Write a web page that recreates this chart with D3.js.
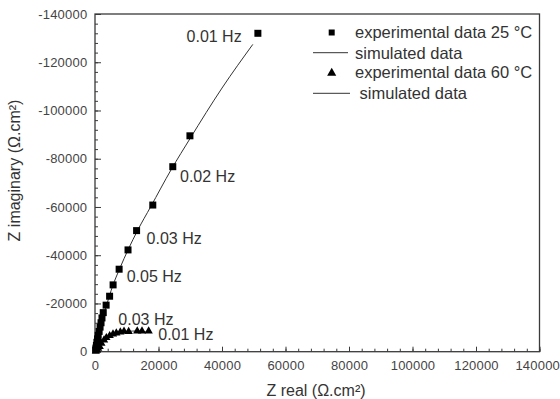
<!DOCTYPE html>
<html>
<head>
<meta charset="utf-8">
<script src="https://cdn.jsdelivr.net/npm/d3@7"></script>
<style>
body { margin: 0; background: #fff; }
text { font-family: "Liberation Sans", Arial, sans-serif; }
</style>
</head>
<body>
<script>
//
// DATA
//
// experimental data 25 °C (squares)
var exp25_real = [51300, 29900, 24500, 18200, 13100, 10400, 7600, 5700, 4600, 3500, 2600, 2200, 1900, 1600, 1300, 1000, 800, 600, 450, 300, 200];
var exp25_imag = [-132000, -89500, -76700, -60800, -50200, -42200, -34200, -27700, -23000, -19300, -16200, -14000, -12000, -10200, -8400, -6800, -5300, -3900, -2600, -1500, -700];

// simulated data 25 °C
var sim25_real = [0, 300, 800, 1500, 2500, 3700, 5500, 7800, 10500, 13500, 17500, 24000, 30000, 40000, 49700];
var sim25_imag = [0, -2000, -5000, -9000, -14000, -19500, -27000, -34500, -42500, -50500, -60000, -75500, -88500, -109300, -127400];

// experimental data 60 °C (triangles)
var exp60_real = [16900, 14800, 13300, 10600, 9140, 7980, 6720, 5670, 4620, 3570, 2840, 2000, 1480, 1000, 600, 300];
var exp60_imag = [-8580, -8580, -8580, -8300, -8450, -8170, -7750, -7340, -6630, -5800, -4850, -3480, -2070, -1400, -800, -300];

// simulated data 60 °C
var sim60_real = [0, 400, 1000, 1700, 2600, 3600, 4800, 6200, 7800, 9600, 11800, 14500, 17500];
var sim60_imag = [0, -700, -1600, -2800, -4300, -5600, -6600, -7400, -8000, -8350, -8550, -8500, -7900];

// frequency annotations: text, series, point index
var freq_text = ["0.01 Hz", "0.02 Hz", "0.03 Hz", "0.05 Hz", "0.03 Hz", "0.01 Hz"];
var freq_series = ["25", "25", "25", "25", "60", "60"];
var freq_index = [0, 2, 4, 6, 5, 0];

// axis ticks
var x_ticks = [0, 20000, 40000, 60000, 80000, 100000, 120000, 140000];
var y_ticks = [0, -20000, -40000, -60000, -80000, -100000, -120000, -140000];

// legend entries
var legend_labels = ["experimental data 25 °C", "simulated data", "experimental data 60 °C", " simulated data"];

//
// LAYOUT
//
var width = 560, height = 399;
var margin = {left: 95, right: 20.5, top: 14, bottom: 47.3};
var w = width - margin.left - margin.right;
var h = height - margin.top - margin.bottom;
var frame_col = "#3a3a3a";

function zip(re, im){
    return re.map(function(d, i){ return {x: d, y: im[i]}; });
}

var exp25 = zip(exp25_real, exp25_imag);
var sim25 = zip(sim25_real, sim25_imag);
var exp60 = zip(exp60_real, exp60_imag);
var sim60 = zip(sim60_real, sim60_imag);

//
// SCALES
//
var x = d3.scaleLinear().domain([0, 140000]).range([0, w]);
var y = d3.scaleLinear().domain([0, -140000]).range([h, 0]);

var svg = d3.select("body")
    .append("svg")
    .attr("width", width)
    .attr("height", height);

var g = svg.append("g")
    .attr("transform", "translate(" + margin.left + "," + margin.top + ")");

//
// AXES
//
var minor_x = d3.range(0, 140001, 4000);
var minor_y = d3.range(0, -140001, -4000);

g.append("g")
    .attr("class", "minor")
    .attr("transform", "translate(0," + h + ")")
    .call(d3.axisBottom(x).tickValues(minor_x).tickSize(-3).tickFormat(""));

g.append("g")
    .attr("class", "minor")
    .call(d3.axisLeft(y).tickValues(minor_y).tickSize(-3).tickFormat(""));

var xa = g.append("g")
    .attr("transform", "translate(0," + h + ")")
    .call(d3.axisBottom(x).tickValues(x_ticks).tickSize(-5).tickPadding(8.8)
        .tickFormat(function(d){ return String(d); }));

var ya = g.append("g")
    .call(d3.axisLeft(y).tickValues(y_ticks).tickSize(-6).tickPadding(7.7)
        .tickFormat(function(d){ return String(d); }));

g.selectAll(".domain").remove();
g.selectAll(".tick line").attr("stroke", frame_col).attr("stroke-width", 1);
g.selectAll(".tick text")
    .attr("fill", "#444")
    .style("font-size", "13px")
    .style("letter-spacing", "0.2px")
    .style("font-family", "'Liberation Sans', Arial, sans-serif");

// keep the last x label inside the window
xa.selectAll(".tick text")
    .filter(function(d){ return d === 140000; })
    .attr("text-anchor", "end")
    .attr("x", 20);

// Frame
g.append("rect")
    .attr("x", 0).attr("y", 0)
    .attr("width", w).attr("height", h)
    .attr("fill", "none")
    .attr("stroke", frame_col)
    .attr("stroke-width", 1.3);

// Axis titles
svg.append("text")
    .attr("x", 316).attr("y", 395.5)
    .attr("text-anchor", "middle")
    .attr("fill", "#333")
    .style("font-size", "16px")
    .text("Z real (Ω.cm²)");

svg.append("text")
    .attr("transform", "translate(19.5,170.5) rotate(-90)")
    .attr("text-anchor", "middle")
    .attr("fill", "#333")
    .style("font-size", "16px")
    .text("Z imaginary (Ω.cm²)");

//
// SERIES
//
var line = d3.line()
    .x(function(d){ return x(d.x); })
    .y(function(d){ return y(d.y); })
    .curve(d3.curveMonotoneX);

g.append("path").datum(sim25)
    .attr("d", line)
    .attr("fill", "none")
    .attr("stroke", "#333")
    .attr("stroke-width", 1);

g.append("path").datum(sim60)
    .attr("d", d3.line()
        .x(function(d){ return x(d.x); })
        .y(function(d){ return y(d.y); })
        .curve(d3.curveCatmullRom))
    .attr("fill", "none")
    .attr("stroke", "#333")
    .attr("stroke-width", 1);

var sq = d3.symbol().type(d3.symbolSquare).size(49);
var tri = d3.symbol().type(d3.symbolTriangle).size(30);

g.selectAll(".sq")
    .data(exp25)
    .enter()
    .append("path")
    .attr("class", "sq")
    .attr("d", sq)
    .attr("transform", function(d){ return "translate(" + x(d.x) + "," + y(d.y) + ")"; })
    .attr("fill", "#000");

g.selectAll(".tri")
    .data(exp60)
    .enter()
    .append("path")
    .attr("class", "tri")
    .attr("d", tri)
    .attr("transform", function(d){ return "translate(" + x(d.x) + "," + y(d.y) + ")"; })
    .attr("fill", "#000");

//
// FREQUENCY LABELS
//
// pixel offsets from the point each label belongs to
var label_dx = [-16.2, 7.2, 10, 7.6, -2, 9.6];
var label_dy = [9, 15, 13.4, 13.2, -7, 8.7];
var label_anchor = ["end", "start", "start", "start", "start", "start"];

freq_text.forEach(function(t, i){
    var p = freq_series[i] === "25" ? exp25[freq_index[i]] : exp60[freq_index[i]];
    g.append("text")
        .attr("x", x(p.x) + label_dx[i])
        .attr("y", y(p.y) + label_dy[i])
        .attr("text-anchor", label_anchor[i])
        .attr("fill", "#333")
        .style("font-size", "16px")
        .text(t);
});

//
// LEGEND
//
var leg = svg.append("g");
var leg_y = [32.5, 52.7, 72.5, 93.3];

leg_y.forEach(function(ly, i){
    if(i === 0){
        leg.append("path")
            .attr("d", d3.symbol().type(d3.symbolSquare).size(36))
            .attr("transform", "translate(331.7," + ly + ")")
            .attr("fill", "#000");
    } else if(i === 2){
        leg.append("path")
            .attr("d", d3.symbol().type(d3.symbolTriangle).size(36))
            .attr("transform", "translate(331.7," + (ly + 0.5) + ")")
            .attr("fill", "#000");
    } else {
        leg.append("line")
            .attr("x1", 313).attr("x2", i === 1 ? 348 : 350)
            .attr("y1", ly).attr("y2", ly)
            .attr("stroke", "#333")
            .attr("stroke-width", 1);
    }
    leg.append("text")
        .attr("x", 355)
        .attr("y", ly + 5.8)
        .attr("fill", "#333")
        .style("font-size", "16.5px")
        .style("white-space", "pre")
        .attr("xml:space", "preserve")
        .text(legend_labels[i]);
});
</script>
</body>
</html>
